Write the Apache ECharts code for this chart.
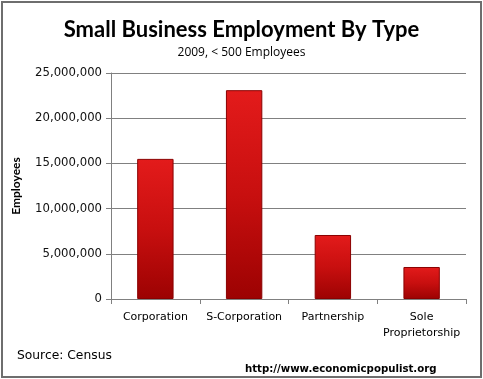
<!DOCTYPE html>
<html><head><meta charset="utf-8">
<script src="https://cdn.jsdelivr.net/npm/echarts@6/dist/echarts.min.js"></script>
<style>html,body{margin:0;padding:0;background:#fff}#c{width:483px;height:379px}</style>
</head><body><div id="c"></div>
<script>
const categories = ['Corporation', 'S-Corporation', 'Partnership', 'Sole\nProprietorship'];
const employees = [15500000, 23100000, 7080000, 3540000];
const yTicks = { min: 0, max: 25000000, interval: 5000000 };

const chart = echarts.init(document.getElementById('c'), null, { renderer: 'canvas' });
const barColor = {
  type: 'linear', x: 0, y: 0, x2: 0, y2: 1,
  colorStops: [
    { offset: 0, color: '#e31b1b' },
    { offset: 0.5, color: '#c80f0f' },
    { offset: 1, color: '#9c0202' }
  ]
};
chart.setOption({
  animation: false,
  backgroundColor: '#fff',
  title: [
    { text: 'Small Business Employment By Type', left: 'center', top: 14,
      textStyle: { fontFamily: 'Lato', fontWeight: 'bold', fontSize: 22, color: '#000' } },
    { text: '2009, < 500 Employees', left: 'center', top: 42,
      textStyle: { fontFamily: 'Open Sans', fontWeight: 'normal', fontSize: 12, color: '#000' } }
  ],
  graphic: [
    { type: 'rect', shape: { x: 2, y: 2, width: 479, height: 375 },
      style: { fill: 'none', stroke: '#6e6e6e', lineWidth: 2 }, silent: true },
    { type: 'text', left: 17, top: 350,
      style: { text: 'Source: Census', font: '12.3px "DejaVu Sans"', fill: '#000' } },
    { type: 'text', left: 245, top: 364,
      style: { text: 'http://www.economicpopulist.org', font: 'bold 10.2px "DejaVu Sans"', fill: '#000' } }
  ],
  grid: { left: 111, right: 17, top: 73, bottom: 80, containLabel: false },
  xAxis: {
    type: 'category', data: categories,
    axisLine: { show: true, lineStyle: { color: '#808080', width: 1 } },
    axisTick: { show: true, alignWithLabel: false, length: 5, lineStyle: { color: '#808080' } },
    axisLabel: { fontFamily: 'DejaVu Sans', fontSize: 11, color: '#000', margin: 10, lineHeight: 16, interval: 0 }
  },
  yAxis: {
    type: 'value', min: yTicks.min, max: yTicks.max, interval: yTicks.interval,
    name: 'Employees', nameLocation: 'middle', nameGap: 89, nameRotate: 90,
    nameTextStyle: { fontFamily: 'Lato', fontWeight: 'bold', fontSize: 12, color: '#000' },
    axisLine: { show: true, lineStyle: { color: '#808080', width: 1 } },
    axisTick: { show: true, length: 5, lineStyle: { color: '#808080' } },
    axisLabel: { fontFamily: 'DejaVu Sans', fontSize: 11.7, color: '#111', margin: 9,
      formatter: v => v.toLocaleString('en-US') },
    splitLine: { show: true, lineStyle: { color: '#808080', width: 1 } }
  },
  series: [{
    type: 'bar', data: employees, barWidth: '41%',
    itemStyle: { color: barColor, borderColor: '#8a0000', borderWidth: 1 }
  }]
});
</script></body></html>
